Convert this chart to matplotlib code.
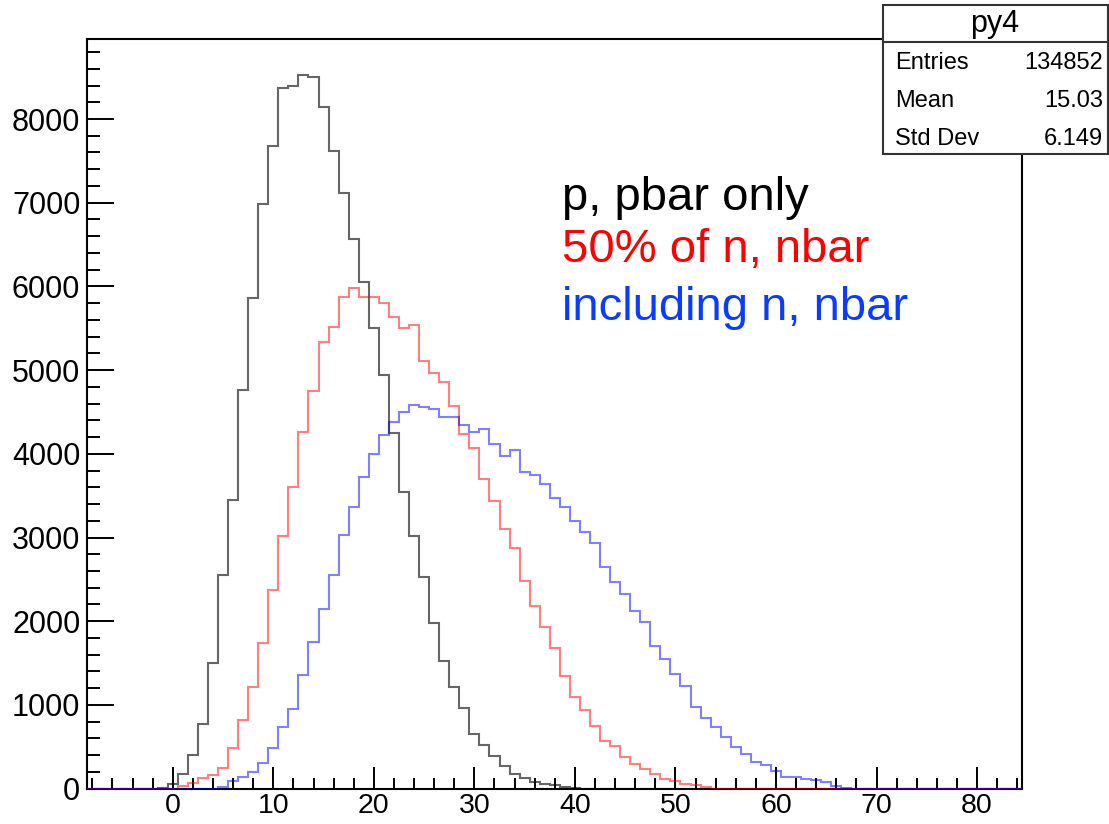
import numpy as np
import matplotlib
matplotlib.use("Agg")
import matplotlib.pyplot as plt
from matplotlib.patches import Rectangle
from matplotlib.lines import Line2D
from matplotlib.ticker import MultipleLocator

plt.rcParams['font.family'] = ['Liberation Sans', 'DejaVu Sans']

# histogram binning: 93 bins of width 1 from -8.5 to 84.5
x_lo, x_hi = -8.5, 84.5
edges = np.arange(x_lo, x_hi + 0.5, 1.0)

# p, pbar only (bins -1 .. 40)
black_start = -1
black_counts = [10, 50, 180, 401, 772, 1504, 2552, 3448, 4762, 5857,
                6984, 7677, 8366, 8394, 8526, 8506, 8147, 7621, 7120, 6563,
                6057, 5499, 4941, 4245, 3540, 3018, 2532, 1975, 1528, 1210,
                959, 652, 521, 385, 266, 178, 123, 76, 52, 48,
                20, 10]

# 50% of n, nbar (bins 1 .. 53)
red_start = 1
red_counts = [30, 71, 123, 165, 248, 481, 820, 1218, 1736, 2373,
              3018, 3600, 4264, 4754, 5332, 5519, 5870, 5977, 5877, 5870,
              5805, 5631, 5499, 5539, 5112, 4962, 4861, 4571, 4233, 4066,
              3695, 3440, 3098, 2871, 2484, 2180, 1930, 1682, 1345, 1091,
              935, 750, 573, 509, 381, 298, 236, 178, 117, 89,
              55, 40, 25]

# including n, nbar (bins 5 .. 67)
blue_start = 5
blue_counts = [20, 90, 140, 195, 302, 481, 732, 947, 1353, 1755,
               2142, 2552, 3030, 3368, 3717, 3998, 4225, 4384, 4503, 4583,
               4560, 4532, 4444, 4444, 4344, 4264, 4293, 4117, 3978, 4045,
               3786, 3747, 3639, 3468, 3361, 3201, 3066, 2931, 2648, 2465,
               2325, 2126, 1994, 1704, 1548, 1369, 1229, 971, 840, 740,
               613, 501, 413, 322, 282, 214, 142, 142, 111, 103,
               75, 35, 10]

stat_names = ['Entries', 'Mean', 'Std Dev']
stat_values = ['134852', '15.03', '6.149']
labels = ['p, pbar only', '50% of n, nbar', 'including n, nbar']


def full_hist(counts, start):
    h = np.zeros(len(edges) - 1)
    i0 = int(start - (x_lo + 0.5))
    h[i0:i0 + len(counts)] = counts
    return h


W, H = 1109, 824
fig = plt.figure(figsize=(W / 100, H / 100), dpi=100)
left, right, top, bottom = 87.3, 1022.3, 39.3, 788.6
ax = fig.add_axes([left / W, 1 - bottom / H, (right - left) / W, (bottom - top) / H])

h_black = full_hist(black_counts, black_start)
h_red = full_hist(red_counts, red_start)
h_blue = full_hist(blue_counts, blue_start)

# drawn above the frame so the zero-level runs show along the bottom axis
ax.stairs(h_black, edges, color='black', alpha=0.6, lw=1.5, zorder=3)
ax.stairs(h_red, edges, color='red', alpha=0.5, lw=1.5, zorder=3)
ax.stairs(h_blue, edges, color='blue', alpha=0.5, lw=1.5, zorder=3)

ax.set_xlim(x_lo, x_hi)
ax.set_ylim(0, 1.05 * h_black.max())

ax.xaxis.set_major_locator(MultipleLocator(10))
ax.xaxis.set_minor_locator(MultipleLocator(2))
ax.yaxis.set_major_locator(MultipleLocator(1000))
ax.yaxis.set_minor_locator(MultipleLocator(200))
ax.tick_params(axis='x', which='major', direction='in', length=16, width=1.4,
               labelsize=20.5, pad=3, top=False)
ax.tick_params(axis='x', which='minor', direction='in', length=8, width=1.4, top=False)
ax.tick_params(axis='y', which='major', direction='in', length=19.5, width=1.4,
               labelsize=22, pad=5, right=False)
ax.tick_params(axis='y', which='minor', direction='in', length=9.5, width=1.4, right=False)
for s in ax.spines.values():
    s.set_linewidth(1.5)

# annotations
ax.text(562 / W, 1 - 210 / H, labels[0], transform=fig.transFigure, fontsize=34, color='black')
ax.text(562 / W, 1 - 262 / H, labels[1], transform=fig.transFigure, fontsize=34, color='red')
ax.text(562 / W, 1 - 320 / H, labels[2], transform=fig.transFigure, fontsize=34, color='#0a3cff')

# stats box
bx0, bx1, by0, by1, bsep = 882.7, 1107.5, 5, 154, 41.7
fig.add_artist(Rectangle((bx0 / W, 1 - by1 / H), (bx1 - bx0) / W, (by1 - by0) / H,
                         transform=fig.transFigure, facecolor='white',
                         edgecolor='#333333', lw=1.5, zorder=5))
fig.add_artist(Line2D([bx0 / W, bx1 / W], [1 - bsep / H, 1 - bsep / H],
                      transform=fig.transFigure, color='#333333', lw=1.5, zorder=6))
fig.text((bx0 + bx1) / 2 / W, 1 - 24 / H, 'py4', ha='center', va='center',
         fontsize=22, zorder=7)
for i, (name, val) in enumerate(zip(stat_names, stat_values)):
    yy = 1 - (63 + 38 * i) / H
    fig.text(895 / W, yy, name, ha='left', va='center', fontsize=17, zorder=7)
    fig.text(1103 / W, yy, val, ha='right', va='center', fontsize=17, zorder=7)

fig.savefig('out.png', dpi=100, facecolor='white')
